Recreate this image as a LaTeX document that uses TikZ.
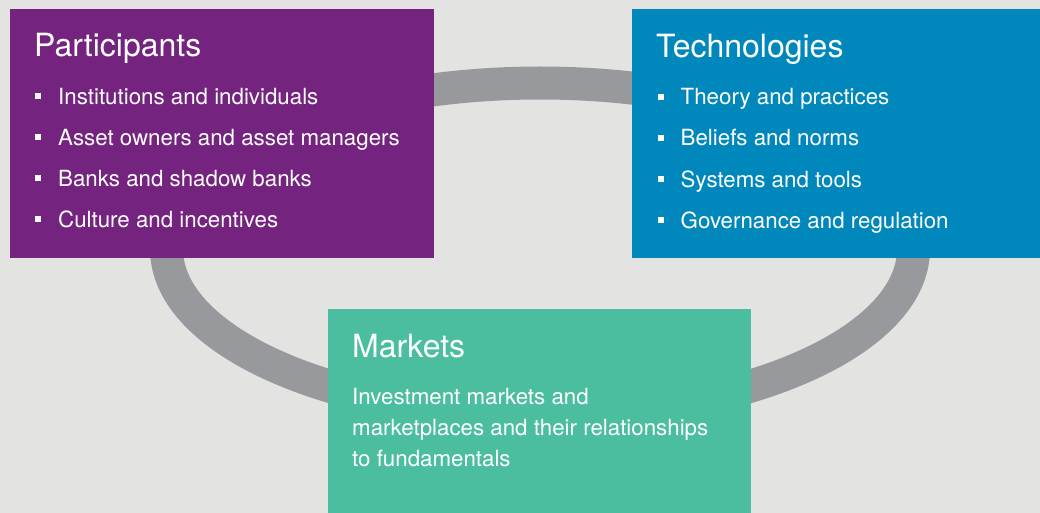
\documentclass[tikz,border=0pt]{standalone}
\usepackage{fontspec}
\setmainfont{TeX Gyre Heros}
\usetikzlibrary{positioning, calc}

\definecolor{bgGray}{HTML}{E3E3E1}
\definecolor{ringGray}{HTML}{98999C}
\definecolor{partPurple}{HTML}{74237F}
\definecolor{techBlue}{HTML}{0087BB}
\definecolor{marketGreen}{HTML}{4BBE9F}

\begin{document}
\begin{tikzpicture}[
    x=1pt, y=-1pt,
    panel/.style={draw=none, fill=#1, anchor=north west, inner sep=0pt},
    heading/.style={anchor=base west, inner sep=0pt, text=white, font=\fontsize{32}{34}\selectfont},
    item/.style={anchor=base west, inner sep=0pt, text=white, font=\fontsize{22.3}{24}\selectfont},
    bullet/.style={fill=white, draw=none, minimum size=6pt, inner sep=0pt},
    ring/.style={draw=ringGray, line width=33pt}
]

    % === Canvas ===
    \useasboundingbox (0,0) rectangle (1040,513);
    \fill[bgGray] (0,0) rectangle (1040,513);

    % === Ring behind the panels ===
    \draw[ring] (540,249) ellipse [x radius=373.5, y radius=166];

    % === Panels ===
    \node[panel=partPurple, minimum width=424pt, minimum height=249pt] (participants) at (10,9) {};
    \node[panel=techBlue, minimum width=408pt, minimum height=249pt] (technologies) at (632,9) {};
    \node[panel=marketGreen, minimum width=423pt, minimum height=204pt] (markets) at (328,309) {};

    % === Participants ===
    \node[heading] (part_title) at (34,57) {Participants};
    \node[item] (p1) at (58,104.5) {Institutions and individuals};
    \node[item] (p2) at (58,145.5) {Asset owners and asset managers};
    \node[item] (p3) at (58,186.5) {Banks and shadow banks};
    \node[item] (p4) at (58,227.5) {Culture and incentives};
    \node[bullet] at ($(p1.base west)+(-20,-8.2)$) {};
    \node[bullet] at ($(p2.base west)+(-20,-8.2)$) {};
    \node[bullet] at ($(p3.base west)+(-20,-8.2)$) {};
    \node[bullet] at ($(p4.base west)+(-20,-8.2)$) {};

    % === Technologies ===
    \node[heading] (tech_title) at (656,58) {Technologies};
    \node[item] (t1) at (680.5,105) {Theory and practices};
    \node[item] (t2) at (680.5,146) {Beliefs and norms};
    \node[item] (t3) at (680.5,187) {Systems and tools};
    \node[item] (t4) at (680.5,228) {Governance and regulation};
    \node[bullet] at ($(t1.base west)+(-20,-8.2)$) {};
    \node[bullet] at ($(t2.base west)+(-20,-8.2)$) {};
    \node[bullet] at ($(t3.base west)+(-20,-8.2)$) {};
    \node[bullet] at ($(t4.base west)+(-20,-8.2)$) {};

    % === Markets ===
    % base of a multi-line node sits on its last line
    \node[heading] (market_title) at (352,357) {Markets};
    \node[item, align=left, font=\fontsize{22.3}{31}\selectfont] (market_text) at (352,466)
        {Investment markets and\\marketplaces and their relationships\\to fundamentals};

\end{tikzpicture}
\end{document}
